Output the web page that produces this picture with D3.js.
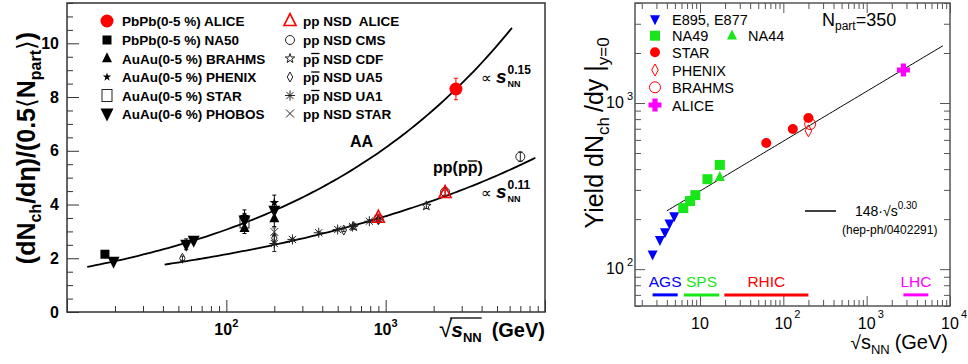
<!DOCTYPE html>
<html>
<head>
<meta charset="utf-8">
<script src="https://cdn.jsdelivr.net/npm/d3@7"></script>
<style>
  body { margin: 0; background: #fff; }
  svg { display: block; font-family: "Liberation Sans", Arial, sans-serif; }
  text { white-space: pre; }
</style>
</head>
<body>
<script>
// ---------- left panel: sqrt(s_NN) [GeV], dNch/deta/(0.5 Npart), error
const aliceAA = [[2760, 8.3, 0.4]];
const na50    = [[17.3, 2.15, 0.08]];
const brahms  = [[130, 3.12, 0.2], [200, 3.48, 0.3]];
const phenix  = [[130, 3.55, 0.25], [200, 4.07, 0.28]];
const starAA  = [[130, 3.33, 0.3]];
const phobos  = [[19.6, 1.89, 0.08], [56, 2.52, 0.2], [62.4, 2.67, 0.12], [130, 3.42, 0.25], [200, 3.78, 0.3]];

const alicePP = [[900, 3.51, 0.1], [2360, 4.43, 0.1]];
const cmsPP   = [[900, 3.48, 0.1], [2360, 4.47, 0.12], [7000, 5.78, 0.18]];
const cdfPP   = [[630, 3.18, 0.1], [1800, 3.95, 0.1]];
const ua5PP   = [[53, 2.0, 0.08], [200, 2.75, 0.15], [546, 3.05, 0.05], [900, 3.43, 0.08]];
const ua1PP   = [[200, 2.55, 0.3], [260, 2.7, 0.05], [380, 2.95, 0.05], [500, 3.07, 0.05], [620, 3.18, 0.05], [790, 3.38, 0.05], [900, 3.45, 0.05]];
const starPP  = [[200, 2.98, 0.15]];

// fits: value = a * sqrt(s)^p
const aaFit = { a: 0.77, p: 0.30, lo: 13.4, hi: 6200 };
const ppFit = { a: 0.78, p: 0.22, lo: 41, hi: 8700 };

const leftYLabels = [0, 2, 4, 6, 8, 10];
const leftXLabels = [[100, '2'], [1000, '3']];

// ---------- right panel: sqrt(s_NN) [GeV], yield dNch/dy
const e895    = [[2.7, 123], [3.3, 150], [3.8, 167], [4.3, 189], [4.9, 209]];
const na49    = [[6.3, 233], [7.6, 257], [8.8, 279], [12.3, 348], [17.3, 424]];
const na44    = [[17.3, 358]];
const starY   = [[62.4, 574], [130, 697], [200, 812]];
const phenixY = [[200, 680]];
const brahmsY = [[210, 747]];
const aliceY  = [[2760, 1580]];
const yieldFit = { a: 148, p: 0.30, lo: 4, hi: 8200 };

const accel   = ['AGS', 'SPS', 'RHIC', 'LHC'];
const accelLo = [2.7, 6.4, 19.6, 2760];
const accelHi = [5.4, 17, 200, 5500];

const rightYLabels = [[100, '2'], [1000, '3']];
const rightXLabels = [[10, ''], [100, '2'], [1000, '3'], [10000, '4']];

// ---------- setup
const svg = d3.select('body').append('svg').attr('width', 968).attr('height', 364);

const xL = d3.scaleLog().domain([10, 10000]).range([67, 545]);
const yL = d3.scaleLinear().domain([0, 11.5]).range([312, 3]);
const xR = d3.scaleLog().domain([1.66, 10000]).range([635, 950]);
const yR = d3.scaleLog().domain([60, 4000]).range([306, 3]);

const RED = '#ff0000', BLUE = '#0000ff', GREEN = '#19e619', MAG = '#ff00ff';

// text made of pieces (sub/superscripts, overlines)
function rich(parent, x, y, parts, o = {}) {
  const g = parent.append('g');
  let cx = 0, pending = 0;
  parts.forEach(p => {
    const dy = p.dy || 0;
    const t = g.append('text').attr('x', cx).attr('y', dy)
      .attr('font-size', p.s)
      .attr('font-weight', (p.b != null ? p.b : o.b) ? 'bold' : 'normal')
      .attr('font-style', p.i ? 'italic' : 'normal')
      .attr('fill', p.c || o.c || '#000')
      .text(p.t);
    if (p.f) t.attr('font-family', p.f);
    const w = t.node().getComputedTextLength();
    if (p.over) {
      g.append('line').attr('x1', cx + (p.ox || 0)).attr('x2', cx + w)
        .attr('y1', dy - p.over).attr('y2', dy - p.over)
        .attr('stroke', p.c || o.c || '#000').attr('stroke-width', p.ow || 1.3);
    }
    if (p.stay) { pending = w; }
    else { cx += Math.max(w, pending); pending = 0; }
    cx += p.gap || 0;
  });
  const sh = o.anchor === 'middle' ? -cx / 2 : o.anchor === 'end' ? -cx : 0;
  g.attr('transform', `translate(${x},${y}) rotate(${o.rot || 0}) translate(${sh},0)`);
  return g;
}

function marker(g, type, x, y, sz, col) {
  const h = sz / 2;
  const st = (sel, w) => sel.attr('fill', 'none').attr('stroke', col).attr('stroke-width', w || 1);
  const tri = (s) => `M${x},${y - s * 0.62 * sz}L${x + h},${y + s * 0.38 * sz}L${x - h},${y + s * 0.38 * sz}Z`;
  switch (type) {
    case 'circle': g.append('circle').attr('cx', x).attr('cy', y).attr('r', h).attr('fill', col); break;
    case 'ocircle': st(g.append('circle').attr('cx', x).attr('cy', y).attr('r', h)); break;
    case 'square': g.append('rect').attr('x', x - h).attr('y', y - h).attr('width', sz).attr('height', sz).attr('fill', col); break;
    case 'osquare': st(g.append('rect').attr('x', x - h).attr('y', y - h * 1.2).attr('width', sz).attr('height', sz * 1.2)); break;
    case 'tri': g.append('path').attr('d', tri(1)).attr('fill', col); break;
    case 'dtri': g.append('path').attr('d', tri(-1)).attr('fill', col); break;
    case 'otri': st(g.append('path').attr('d', tri(1)), 1.6); break;
    case 'star':
      g.append('path').attr('d', d3.symbol(d3.symbolStar, h * h / 0.8908)()).attr('transform', `translate(${x},${y})`).attr('fill', col); break;
    case 'ostar':
      st(g.append('path').attr('d', d3.symbol(d3.symbolStar, h * h / 0.8908)()).attr('transform', `translate(${x},${y})`)); break;
    case 'odiamond':
      st(g.append('path').attr('d', `M${x},${y - h}L${x + h * 0.55},${y}L${x},${y + h}L${x - h * 0.55},${y}Z`)); break;
    case 'asterisk': {
      const d = [[0, 1], [1, 0], [0.72, 0.72], [0.72, -0.72]].map(([a, b]) => `M${x - a * h},${y - b * h}L${x + a * h},${y + b * h}`).join('');
      st(g.append('path').attr('d', d)); break;
    }
    case 'times': {
      const d = `M${x - h},${y - h}L${x + h},${y + h}M${x - h},${y + h}L${x + h},${y - h}`;
      st(g.append('path').attr('d', d)); break;
    }
    case 'cross': {
      const a = sz * 0.2;
      const d = `M${x - a},${y - h}H${x + a}V${y - a}H${x + h}V${y + a}H${x + a}V${y + h}H${x - a}V${y + a}H${x - h}V${y - a}H${x - a}Z`;
      g.append('path').attr('d', d).attr('fill', col); break;
    }
  }
}

function fitCurve(f) {
  return d3.range(0, 101).map(i => {
    const s = f.lo * Math.pow(f.hi / f.lo, i / 100);
    return [s, f.a * Math.pow(s, f.p)];
  });
}

function axes(g, x, y, sides, col, maj, minr, isMajX, isMajY) {
  const xt = x.ticks(), yt = y.ticks();
  const [x0, x1] = x.range(), [y0, y1] = y.range();
  const put = (ax, tr) => {
    const a = g.append('g').attr('transform', tr).call(ax);
    a.select('.domain').remove();
    a.selectAll('line').attr('stroke', col).attr('stroke-width', 1);
  };
  sides.forEach(sd => {
    if (sd === 'bottom' || sd === 'top') {
      const A = sd === 'bottom' ? d3.axisBottom : d3.axisTop;
      put(A(x).tickValues(xt.filter(v => !isMajX(v))).tickSize(-minr).tickFormat(''), `translate(0,${sd === 'bottom' ? y0 : y1})`);
      put(A(x).tickValues(xt.filter(isMajX)).tickSize(-maj).tickFormat(''), `translate(0,${sd === 'bottom' ? y0 : y1})`);
    } else {
      const A = sd === 'left' ? d3.axisLeft : d3.axisRight;
      put(A(y).tickValues(yt.filter(v => !isMajY(v))).tickSize(-minr).tickFormat(''), `translate(${sd === 'left' ? x0 : x1},0)`);
      put(A(y).tickValues(yt.filter(isMajY)).tickSize(-maj).tickFormat(''), `translate(${sd === 'left' ? x0 : x1},0)`);
    }
  });
  g.append('rect').attr('x', x0).attr('y', y1).attr('width', x1 - x0).attr('height', y0 - y1)
    .attr('fill', 'none').attr('stroke', col).attr('stroke-width', 1.5);
}

const isPow10 = v => Math.abs(Math.log10(v) - Math.round(Math.log10(v))) < 1e-9;

// ================= LEFT PANEL =================
const L = svg.append('g');
{
  const yLin = d3.scaleLinear().domain(yL.domain()).range(yL.range());
  yLin.ticks = () => d3.range(0, 11.51, 0.5);
  axes(L, xL, yLin, ['bottom', 'left'], '#333', 12, 6, isPow10, v => v % 2 === 0);
}

const line = d3.line().x(d => xL(d[0])).y(d => yL(d[1]));
L.append('path').attr('d', line(fitCurve(aaFit))).attr('fill', 'none').attr('stroke', '#000').attr('stroke-width', 1.8);
L.append('path').attr('d', line(fitCurve(ppFit))).attr('fill', 'none').attr('stroke', '#000').attr('stroke-width', 1.8);

const leftSeries = [
  { d: starPP, t: 'times', sz: 8, c: '#333' },
  { d: ua1PP, t: 'asterisk', sz: 10, c: '#222' },
  { d: ua5PP, t: 'odiamond', sz: 10, c: '#222' },
  { d: cdfPP, t: 'ostar', sz: 10, c: '#222' },
  { d: cmsPP, t: 'ocircle', sz: 9, c: '#222' },
  { d: alicePP, t: 'otri', sz: 12, c: RED },
  { d: starAA, t: 'osquare', sz: 9, c: '#222' },
  { d: brahms, t: 'tri', sz: 10, c: '#000' },
  { d: phobos, t: 'dtri', sz: 12, c: '#000' },
  { d: phenix, t: 'star', sz: 10, c: '#000' },
  { d: na50, t: 'square', sz: 9, c: '#000' },
  { d: aliceAA, t: 'circle', sz: 13, c: RED }
];
leftSeries.forEach(S => {
  S.d.forEach(([s, v, e]) => {
    const x = xL(s);
    L.append('line').attr('x1', x).attr('x2', x).attr('y1', yL(v - e)).attr('y2', yL(v + e))
      .attr('stroke', S.c).attr('stroke-width', 1);
    [v - e, v + e].forEach(q => L.append('line').attr('x1', x - 2).attr('x2', x + 2)
      .attr('y1', yL(q)).attr('y2', yL(q)).attr('stroke', S.c).attr('stroke-width', 1));
    marker(L, S.t, x, yL(v), S.sz, S.c);
  });
});

// left tick labels
leftYLabels.forEach(v => L.append('text').attr('x', 59).attr('y', yL(v) + 5.5)
  .attr('text-anchor', 'end').attr('font-size', 16).attr('font-weight', 'bold').text(v));
leftXLabels.forEach(([v, e]) => rich(L, xL(v), 335, [{ t: '10', s: 16 }, { t: e, s: 11, dy: -8 }], { b: true, anchor: 'middle' }));

// left axis titles
rich(L, 545, 337, [
  { t: '√', s: 24, b: false, gap: -1 },
  { t: 's', s: 21, i: true, over: 19, ox: -1 },
  { t: 'NN', s: 13, dy: 5, over: 24, gap: 10 },
  { t: '(GeV)', s: 20 }
], { b: true, anchor: 'end' });

rich(L, 35, 148, [
  { t: '(d', s: 25 }, { t: 'N', s: 25 },
  { t: 'ch', s: 16, dy: 6 },
  { t: '/d', s: 25 }, { t: 'η', s: 25 }, { t: ')/(0.5', s: 25 },
  { t: '⟨', s: 25, b: false, f: 'DejaVu Sans' },
  { t: 'N', s: 25 }, { t: 'part', s: 16, dy: 6 },
  { t: '⟩', s: 25, b: false, f: 'DejaVu Sans' }, { t: ')', s: 25 }
], { b: true, anchor: 'middle', rot: -90 });

// left legend
const legAA = [
  ['circle', 13, RED, 'PbPb(0-5 %) ALICE'],
  ['square', 9, '#000', 'PbPb(0-5 %) NA50'],
  ['tri', 10, '#000', 'AuAu(0-5 %) BRAHMS'],
  ['star', 9, '#000', 'AuAu(0-5 %) PHENIX'],
  ['osquare', 10, '#222', 'AuAu(0-5 %) STAR'],
  ['dtri', 13, '#000', 'AuAu(0-6 %) PHOBOS']
];
const legPP = [
  ['otri', 12, RED, ['pp', ' NSD  ALICE']],
  ['ocircle', 9, '#222', ['pp', ' NSD CMS']],
  ['ostar', 10, '#222', ['pP', ' NSD CDF']],
  ['odiamond', 10, '#222', ['pP', ' NSD UA5']],
  ['asterisk', 10, '#222', ['pP', ' NSD UA1']],
  ['times', 8, '#222', ['pp', ' NSD STAR']]
];
const legRows = [21, 40, 58.5, 77, 95.5, 113.5];
legAA.forEach(([t, sz, c, lab], i) => {
  marker(L, t, 107, legRows[i], sz, c);
  L.append('text').attr('x', 122).attr('y', legRows[i] + 5).attr('font-size', 13.5)
    .attr('font-weight', 'bold').text(lab);
});
legPP.forEach(([t, sz, c, lab], i) => {
  marker(L, t, 290, legRows[i], sz, c);
  const bar = lab[0] === 'pP';
  rich(L, 303, legRows[i] + 5, bar
    ? [{ t: 'p', s: 13.5 }, { t: 'p', s: 13.5, over: 10 }, { t: lab[1], s: 13.5 }]
    : [{ t: 'pp' + lab[1], s: 13.5 }], { b: true });
});

// curve labels
L.append('text').attr('x', 350).attr('y', 147).attr('font-size', 16).attr('font-weight', 'bold').text('AA');
rich(L, 433, 173, [{ t: 'pp(p', s: 16 }, { t: 'p', s: 16, over: 12 }, { t: ')', s: 16 }], { b: true });
rich(L, 481, 83, [
  { t: '∝', s: 15, b: false, gap: 4 },
  { t: 's', s: 19, i: true, gap: 1 },
  { t: 'NN', s: 9, dy: 4, stay: true },
  { t: '0.15', s: 12, dy: -9 }
], { b: true });
rich(L, 481, 198, [
  { t: '∝', s: 15, b: false, gap: 4 },
  { t: 's', s: 19, i: true, gap: 1 },
  { t: 'NN', s: 9, dy: 4, stay: true },
  { t: '0.11', s: 12, dy: -9 }
], { b: true });

// ================= RIGHT PANEL =================
const R = svg.append('g');
axes(R, xR, yR, ['bottom', 'top', 'left', 'right'], '#555', 10, 6, isPow10, isPow10);

const lineR = d3.line().x(d => xR(d[0])).y(d => yR(d[1]));
R.append('path').attr('d', lineR(fitCurve(yieldFit))).attr('fill', 'none').attr('stroke', '#000').attr('stroke-width', 1);

const rightSeries = [
  { d: e895, t: 'dtri', sz: 10, c: BLUE },
  { d: na49, t: 'square', sz: 10, c: GREEN },
  { d: na44, t: 'tri', sz: 10, c: GREEN },
  { d: starY, t: 'circle', sz: 10, c: RED },
  { d: phenixY, t: 'odiamond', sz: 12, c: RED },
  { d: brahmsY, t: 'ocircle', sz: 11, c: RED },
  { d: aliceY, t: 'cross', sz: 13, c: MAG }
];
rightSeries.forEach(S => S.d.forEach(([s, v]) => marker(R, S.t, xR(s), yR(v), S.sz, S.c)));

// accelerator ranges
const accelCol = [BLUE, GREEN, RED, MAG];
accel.forEach((name, i) => {
  R.append('line').attr('x1', xR(accelLo[i])).attr('x2', xR(accelHi[i]))
    .attr('y1', yR(70)).attr('y2', yR(70)).attr('stroke', accelCol[i]).attr('stroke-width', 3);
  R.append('text').attr('x', xR(Math.sqrt(accelLo[i] * accelHi[i]))).attr('y', yR(78))
    .attr('text-anchor', 'middle').attr('font-size', 15.5).attr('fill', accelCol[i]).text(name);
});

// right tick labels
rightYLabels.forEach(([v, e]) => rich(R, 633, yR(v) + 5, [{ t: '10', s: 16, gap: 3 }, { t: e, s: 11, dy: -8 }], { anchor: 'end' }));
rightXLabels.forEach(([v, e]) => {
  R.append('text').attr('x', xR(v)).attr('y', 329).attr('text-anchor', 'middle').attr('font-size', 16).text('10');
  if (e) R.append('text').attr('x', xR(v) + 11).attr('y', 318).attr('font-size', 11).text(e);
});

// right axis titles
rich(R, 948, 349, [
  { t: '√', s: 19 }, { t: 's', s: 20 }, { t: 'NN', s: 13, dy: 5, gap: 5 }, { t: '(GeV)', s: 20 }
], { anchor: 'end' });
rich(R, 603, 133, [
  { t: 'Yield dN', s: 25 }, { t: 'ch', s: 17, dy: 6, gap: 5 }, { t: '/dy |', s: 25 }, { t: 'y=0', s: 17, dy: 6 }
], { anchor: 'middle', rot: -90 });

// right legend
const legR = [
  ['dtri', 10, BLUE, 'E895, E877'],
  ['square', 10, GREEN, 'NA49'],
  ['circle', 10, RED, 'STAR'],
  ['odiamond', 12, RED, 'PHENIX'],
  ['ocircle', 11, RED, 'BRAHMS'],
  ['cross', 13, MAG, 'ALICE']
];
const legRRows = [19, 35.7, 52.3, 70, 87.3, 105];
legR.forEach(([t, sz, c, lab], i) => {
  marker(R, t, 655, legRRows[i], sz, c);
  R.append('text').attr('x', 672).attr('y', legRRows[i] + 5.5).attr('font-size', 14.5).text(lab);
});
marker(R, 'tri', 732, legRRows[1], 10, GREEN);
R.append('text').attr('x', 748).attr('y', legRRows[1] + 5.5).attr('font-size', 14.5).text('NA44');

rich(R, 822, 26, [{ t: 'N', s: 18 }, { t: 'part', s: 12, dy: 4 }, { t: '=350', s: 18 }]);

R.append('line').attr('x1', 805).attr('x2', 836).attr('y1', 211).attr('y2', 211).attr('stroke', '#000').attr('stroke-width', 1.5);
rich(R, 855, 216, [{ t: '148·√s', s: 14 }, { t: '0.30', s: 10, dy: -7 }]);
R.append('text').attr('x', 842).attr('y', 234).attr('font-size', 12).text('(hep-ph/0402291)');
</script>
</body>
</html>
